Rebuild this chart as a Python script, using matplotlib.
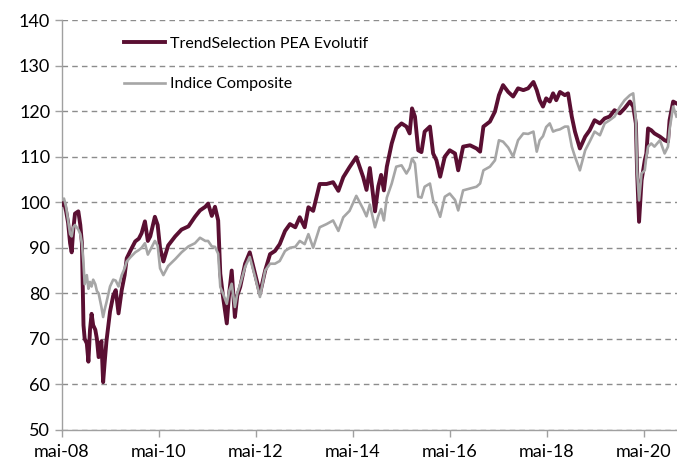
import pandas as pd
import matplotlib
matplotlib.use("agg")
import matplotlib.pyplot as plt

# Values (base 100 in May 2008)
dates = [
    "2008-05-01", "2008-05-16", "2008-06-01", "2008-06-16", "2008-07-01",
    "2008-07-13", "2008-07-25", "2008-08-07", "2008-09-01", "2008-09-16",
    "2008-09-28", "2008-10-10", "2008-10-19", "2008-11-04", "2008-11-16",
    "2008-11-28", "2008-12-10", "2008-12-22", "2009-01-07", "2009-01-19",
    "2009-02-01", "2009-02-22", "2009-03-07", "2009-03-19", "2009-04-01",
    "2009-04-28", "2009-05-22", "2009-06-10", "2009-07-01", "2009-07-25",
    "2009-08-16", "2009-09-01", "2009-10-01", "2009-11-04", "2009-12-01",
    "2009-12-22", "2010-01-16", "2010-02-07", "2010-02-25", "2010-04-01",
    "2010-04-22", "2010-05-10", "2010-06-04", "2010-07-10", "2010-09-01",
    "2010-10-19", "2010-12-10", "2011-01-28", "2011-03-07", "2011-04-16",
    "2011-05-07", "2011-06-04", "2011-06-28", "2011-07-22", "2011-08-07",
    "2011-08-28", "2011-09-25", "2011-10-13", "2011-11-01", "2011-11-25",
    "2011-12-13", "2012-01-04", "2012-02-10", "2012-03-16", "2012-04-25",
    "2012-06-01", "2012-07-10", "2012-08-16", "2012-09-22", "2012-10-28",
    "2012-12-07", "2013-01-13", "2013-02-22", "2013-03-28", "2013-05-04",
    "2013-06-01", "2013-07-07", "2013-08-25", "2013-10-16", "2013-12-04",
    "2014-01-13", "2014-02-19", "2014-04-07", "2014-05-28", "2014-07-19",
    "2014-08-13", "2014-09-07", "2014-10-16", "2014-11-10", "2014-12-01",
    "2014-12-22", "2015-01-13", "2015-02-19", "2015-03-25", "2015-05-04",
    "2015-06-10", "2015-07-04", "2015-07-22", "2015-08-13", "2015-09-07",
    "2015-10-01", "2015-10-25", "2015-12-04", "2015-12-28", "2016-01-22",
    "2016-02-19", "2016-03-25", "2016-05-01", "2016-06-10", "2016-07-04",
    "2016-08-10", "2016-10-01", "2016-11-19", "2016-12-16", "2017-01-10",
    "2017-02-28", "2017-04-07", "2017-05-07", "2017-06-07", "2017-07-16",
    "2017-08-22", "2017-09-28", "2017-11-07", "2017-12-13", "2018-01-22",
    "2018-02-16", "2018-03-10", "2018-04-04", "2018-04-28", "2018-05-25",
    "2018-06-19", "2018-07-13", "2018-08-10", "2018-09-16", "2018-10-10",
    "2018-11-07", "2018-12-01", "2019-01-07", "2019-02-16", "2019-03-22",
    "2019-04-28", "2019-06-07", "2019-07-13", "2019-08-19", "2019-09-25",
    "2019-11-04", "2019-12-10", "2020-01-19", "2020-02-13", "2020-03-04",
    "2020-03-13", "2020-03-28", "2020-04-16", "2020-05-10", "2020-05-22",
    "2020-06-04", "2020-06-28", "2020-07-22", "2020-09-01", "2020-10-07",
    "2020-11-01", "2020-11-13", "2020-12-10", "2021-01-04",
]

trend_selection = [
    99.5, 100.0, 98.0, 95.5, 91.0, 89.0, 94.0, 97.5, 98.0, 95.0,
    91.0, 73.0, 70.0, 69.0, 65.0, 72.0, 75.5, 73.0, 72.0, 70.0,
    66.0, 69.5, 60.5, 65.0, 69.5, 76.0, 79.5, 80.7, 75.6, 80.7,
    84.0, 87.7, 89.5, 91.4, 92.0, 93.2, 95.8, 91.5, 92.5, 96.8,
    95.0, 90.0, 87.0, 90.5, 92.5, 94.0, 94.7, 96.8, 98.2, 99.0,
    99.7, 97.0, 99.0, 96.0, 84.3, 79.2, 73.4, 80.0, 85.0, 74.8,
    79.5, 81.4, 86.5, 89.0, 84.3, 79.9, 85.0, 88.6, 89.3, 90.8,
    93.7, 95.2, 94.5, 96.7, 94.5, 98.9, 98.1, 104.0, 104.0, 104.4,
    102.5, 105.5, 107.7, 109.9, 105.5, 102.7, 107.5, 98.0, 103.5, 106.0,
    102.6, 107.8, 112.9, 116.2, 117.3, 116.6, 115.1, 120.6, 118.8, 111.4,
    111.0, 115.5, 116.6, 110.7, 109.2, 105.6, 110.0, 111.4, 110.7, 107.0,
    112.2, 112.5, 111.8, 111.1, 116.6, 117.7, 119.9, 123.5, 125.7, 124.2,
    123.2, 125.0, 124.6, 125.0, 126.4, 124.6, 122.4, 121.0, 122.8, 122.1,
    123.9, 122.4, 124.2, 123.5, 123.9, 118.8, 115.5, 111.8, 114.4, 115.8,
    118.0, 117.3, 118.4, 118.8, 120.2, 119.5, 120.6, 122.1, 121.0, 117.3,
    107.0, 95.7, 104.8, 109.2, 110.7, 116.2, 115.8, 115.1, 114.4, 113.6,
    113.3, 118.0, 122.1, 121.7,
]

indice_composite = [
    100.5, 100.8, 99.0, 96.0, 93.0, 92.5, 94.5, 95.0, 94.0, 93.0,
    91.0, 86.5, 82.0, 84.0, 81.0, 82.5, 81.5, 83.0, 82.0, 80.5,
    80.0, 77.0, 74.8, 76.5, 78.0, 81.5, 83.0, 82.8, 81.5, 84.0,
    85.5, 87.0, 88.0, 89.0, 89.5, 90.0, 91.0, 88.5, 89.5, 91.5,
    90.5, 85.5, 84.0, 86.0, 87.5, 89.0, 90.3, 91.0, 92.2, 91.5,
    91.5, 90.3, 90.2, 88.7, 81.4, 79.9, 77.7, 80.5, 82.1, 77.0,
    80.0, 82.0, 85.8, 88.0, 83.6, 79.2, 85.0, 86.5, 86.5, 87.1,
    89.3, 90.0, 90.2, 91.5, 90.8, 93.0, 90.0, 94.5, 95.2, 96.0,
    93.7, 96.7, 98.1, 101.4, 98.5, 96.9, 99.5, 94.5, 97.0, 98.5,
    96.0, 101.0, 104.1, 107.8, 108.1, 106.3, 107.5, 109.6, 108.5, 101.2,
    101.0, 103.4, 104.1, 100.4, 99.0, 96.8, 101.2, 101.9, 100.5, 98.2,
    102.6, 103.0, 103.4, 104.1, 107.0, 107.8, 109.2, 113.6, 113.3, 112.0,
    110.0, 113.6, 115.1, 115.0, 115.5, 111.1, 113.6, 114.5, 116.5, 117.3,
    115.5, 115.8, 116.0, 116.6, 116.6, 112.2, 110.0, 107.0, 111.4, 113.3,
    115.5, 114.7, 117.3, 118.0, 118.8, 120.9, 122.4, 123.5, 123.9, 118.0,
    107.0, 100.4, 106.3, 107.0, 110.0, 112.2, 112.9, 112.2, 113.6, 110.7,
    112.2, 116.0, 121.0, 118.8,
]

series_labels = ["TrendSelection PEA Evolutif", "Indice Composite"]
tick_years = list(range(2008, 2021, 2))

df = pd.DataFrame({"date": pd.to_datetime(dates),
                   "ts": trend_selection,
                   "ic": indice_composite})

plt.rcParams["font.family"] = ["Lato", "DejaVu Sans"]

fig = plt.figure(figsize=(6.77, 4.63), dpi=100)
ax = fig.add_axes([62 / 677, 33 / 463, 615 / 677, 410 / 463])

ax.plot(df["date"], df["ts"], color="#5a0f32", linewidth=2.8,
        label=series_labels[0], solid_joinstyle="round", zorder=3)
ax.plot(df["date"], df["ic"], color="#a6a6a6", linewidth=1.9,
        label=series_labels[1], solid_joinstyle="round", zorder=4)

ax.set_ylim(50, 140)
ax.set_yticks(range(50, 141, 10))
ax.set_xlim(pd.Timestamp("2008-05-01"), pd.Timestamp("2021-01-08"))
ax.set_xticks([pd.Timestamp("{}-05-01".format(y)) for y in tick_years])
ax.set_xticklabels(["mai-{:02d}".format(y % 100) for y in tick_years])

ax.grid(axis="y", color="#8c8c8c", linewidth=1.0, linestyle=(0, (4, 3)))
ax.set_axisbelow(True)

for side in ("top", "right"):
    ax.spines[side].set_visible(False)
for side in ("left", "bottom"):
    ax.spines[side].set_color("#a0a0a0")
    ax.spines[side].set_linewidth(1.0)

ax.tick_params(axis="both", colors="#a0a0a0", labelcolor="black",
               labelsize=13, length=5, width=1.0, direction="out")
ax.tick_params(axis="x", pad=5)

leg = ax.legend(loc="upper left", bbox_to_anchor=(0.09, 0.975), frameon=False,
                fontsize=11.5, handlelength=2.6, handletextpad=0.3,
                labelspacing=1.65, borderaxespad=0)

fig.savefig("out.png", dpi=100)
plt.close(fig)
